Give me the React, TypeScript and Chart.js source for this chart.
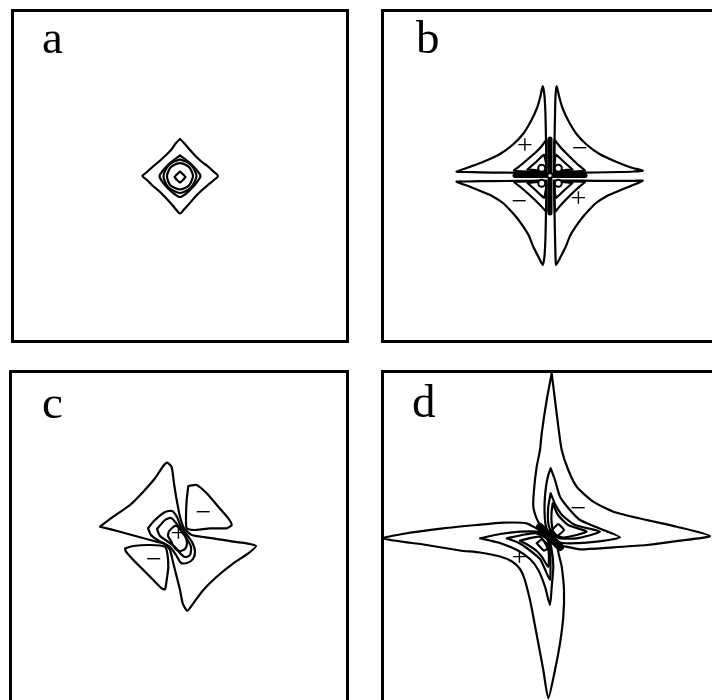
import { useEffect, useRef } from "react";
import { Chart, registerables } from "chart.js";

Chart.register(...registerables);

type Pt = [number, number];

// Coordinates are offsets from each panel's centre (x right, y up).

// ---- a: single centred peak ----
const aOuter: Pt[] = [
  [0, 37], [4, 33], [10, 26], [16, 19.5], [22, 14], [28, 9.5], [34, 4], [38, 0],
  [34, -4], [28, -9], [21, -15], [15, -21], [9, -28], [4, -33.5], [0, -37.5],
  [-4, -33.5], [-9, -27.5], [-15, -21], [-21, -15], [-27, -10], [-33, -4], [-37.5, 0],
  [-33, 4], [-27, 9.5], [-21, 14.5], [-15, 20], [-9, 26], [-4, 33],
];
const aRing2: Pt[] = [
  [0, 20.5], [5, 17], [11, 12], [17, 5.5], [20.5, 0], [17, -6], [11.5, -12.5], [5.5, -18],
  [0, -21], [-5.5, -18], [-12, -12.5], [-17.5, -6], [-20.5, 0], [-17, 5.5], [-11, 12], [-5, 17],
];
const aRing3: Pt[] = [
  [0, 16.5], [6, 14.5], [11, 11], [14.5, 6], [16.5, 0], [14.5, -6], [11, -11.5], [6, -15],
  [0, -17], [-6, -15], [-11.5, -11.5], [-15, -6], [-16.5, 0], [-14.5, 6], [-11, 11], [-6, 14.5],
];
const aRing4: Pt[] = [
  [0, 13], [5, 11.5], [9, 9], [11.5, 5], [13, 0], [11.5, -5], [9, -9.5], [5, -12],
  [0, -13.5], [-5, -12], [-9.5, -9.5], [-12, -5], [-13, 0], [-11.5, 5], [-9, 9], [-5, 11.5],
];
const aCore: Pt[] = [[0, 4.5], [5.5, -1], [0, -6.5], [-5.5, -1]];

// ---- b: four-lobed quadrupole ----
const bLobeUL: Pt[] = [
  [-3.5, 3], [-20, 3.2], [-45, 3.3], [-70, 3.6], [-85, 4], [-93.5, 4.3], [-82, 8.5], [-66, 14.5],
  [-50, 22], [-37, 31.5], [-27, 42], [-19, 55], [-13, 68], [-9.5, 80], [-7.3, 90],
  [-5.5, 80], [-4.5, 60], [-4, 35],
];
const bLobeUR: Pt[] = [
  [4, 3], [4.5, 35], [5, 60], [5.5, 80], [6.7, 90], [9, 80], [12.5, 68], [18.5, 55],
  [26.5, 42], [36.5, 31.5], [49.5, 22], [65.5, 14.5], [81, 8.5], [92.7, 5.3],
  [84, 4.5], [70, 4], [45, 3.5], [20, 3.2],
];
const bLobeLL: Pt[] = [
  [-3.5, -4.5], [-20, -4.8], [-45, -5], [-70, -5.2], [-85, -5.5], [-93.5, -5.7], [-80, -10.7],
  [-66, -16.5], [-56.7, -20.7], [-47, -27], [-40, -34], [-33, -42], [-26.7, -50.7], [-21, -60],
  [-16.7, -70.7], [-11, -82], [-7.3, -89], [-5.5, -80], [-4.5, -60], [-4, -35],
];
const bLobeLR: Pt[] = [
  [4, -4.5], [4.5, -35], [5, -60], [5.5, -80], [6, -89], [10, -82], [15.7, -70.7], [20, -60],
  [25.7, -50.7], [32, -42], [39, -34], [46, -27], [55.7, -20.7], [65, -16.5], [79, -10.7],
  [92.7, -4.7], [85, -4.8], [70, -4.8], [45, -4.8], [20, -4.6],
];
const bTriUL: Pt[] = [[-4, 4], [-36, 5.3], [-29, 11], [-22, 17], [-15, 23], [-9, 29], [-3.5, 36]];
const bTriUR: Pt[] = [[4.5, 4], [4.5, 36], [10, 29.3], [16, 23], [22, 17], [28.3, 11], [35, 5.3]];
const bTriLL: Pt[] = [[-4, -5], [-36, -5.7], [-29, -11.5], [-22, -17.5], [-15, -24], [-9, -30], [-3.5, -35.7]];
const bTriLR: Pt[] = [[4.5, -5], [35, -5.7], [28.5, -11.5], [22, -17.5], [15.5, -24], [10, -30], [5, -35.7]];
const bDiaUL: Pt[] = [[-22.5, 6.5], [-14, 14], [-6, 21.5], [-4, 13], [-4, 6], [-12, 5.5]];
const bDiaUR: Pt[] = [[22.5, 6.5], [14, 14], [6, 21.5], [4.5, 13], [4.5, 6], [12, 5.5]];
const bDiaLL: Pt[] = [[-22.5, -7], [-14, -14.5], [-6, -22], [-4, -13], [-4, -6.5], [-12, -6]];
const bDiaLR: Pt[] = [[22.5, -7], [14, -14.5], [6, -22], [4.5, -13], [4.5, -6.5], [12, -6]];
const bCrossH: Pt[] = [[-35, 0.5], [35, 0.5]];
const bCrossV: Pt[] = [[0, 37], [0, -37]];
const bRings: Pt[] = [[-8.3, 7.7], [8.3, 7.7], [-8.3, -7.3], [8.3, -7.3]];
const bCentre: Pt[] = [[0, 0.5]];

// ---- c: rotated pinwheel ----
const cOuter: Pt[] = [
  [-79, 10.3], [-65.7, 20.3], [-49, 32], [-35.7, 45.3], [-24, 58.7], [-15.7, 71], [-11.7, 74.3],
  [-7.3, 69.7], [-5, 53.7], [-2.3, 37], [1, 20.3], [5, 9], [12.7, 2], [34.3, -1.3], [54.3, -4.7],
  [67.7, -6.3], [77, -9], [69.3, -16.3], [54.3, -26.3], [37.7, -39.7], [24.3, -53], [14.3, -66.3],
  [8.3, -73.7], [3.7, -66.3], [1, -53], [-2.3, -39.7], [-5.7, -26.3], [-9, -13], [-14, -7],
  [-22.3, -4.7], [-39, -0.3], [-59, 5.3],
];
const cLobeUR: Pt[] = [
  [9.3, 51], [17.7, 52], [27.7, 43.7], [39.3, 30.3], [49.3, 18.7], [52.7, 12], [47.7, 8.7],
  [31, 8.7], [14.3, 7], [7.7, 8.7], [7, 20.3], [7.7, 37],
];
const cLobeLL: Pt[] = [
  [-54, -11.3], [-45.7, -9], [-29, -8], [-14, -9.7], [-11.7, -16.3], [-10.7, -29.7], [-12.3, -43],
  [-14, -52.3], [-17.3, -51.3], [-25.7, -43], [-35.7, -33], [-45.7, -23], [-53, -14.7],
];
const cInner2: Pt[] = [
  [-31, 9], [-24, 17], [-14, 25], [-7, 26], [-2, 20], [2, 10], [8, 2], [13, -5], [16, -14],
  [14, -22], [8, -26], [2, -26], [-3, -18], [-9, -10], [-20, -4], [-28, 2],
];
const cInner3: Pt[] = [
  [-22, 8], [-14, 17], [-8, 19], [-3, 14], [2, 6], [8, -2], [12, -10], [11, -18], [6, -20],
  [1, -16], [-4, -10], [-12, -4], [-19, 1],
];
const cInner4: Pt[] = [
  [-10, 6], [-4, 11], [2, 9], [6, 2], [8, -6], [6, -12], [0, -14], [-5, -10], [-8, -4], [-11, 1],
];

// ---- d: elongated pinwheel ----
const dOuter: Pt[] = [
  [1.7, 163.7], [5, 137], [8.3, 110.3], [11.7, 87], [18.3, 67], [26.7, 50.3], [43.3, 35.3],
  [63.3, 25.3], [93.3, 17.7], [126.7, 10.3], [160, 1], [130, -3.7], [96.7, -8], [63.3, -10.3],
  [30, -12.3], [8, -9], [11.7, -29.7], [14, -53], [13.3, -79.7], [10, -106.3], [5, -133],
  [-1.7, -161.3], [-6.7, -133], [-11.7, -106.3], [-16.7, -79.7], [-20, -63], [-25.5, -42],
  [-30, -32], [-38, -24.5], [-50, -19.5], [-70, -15.5], [-90, -13.5], [-123.3, -8],
  [-166.7, -1.3], [-140, 4.3], [-106.7, 8.7], [-73.3, 12], [-46.7, 14.3], [-23.3, 13.7],
  [-8, 6], [-14, 20], [-16.7, 30.3], [-16, 47], [-13.3, 70.3], [-10, 87], [-8.3, 103.7], [-3.3, 137],
];
const dInner2a: Pt[] = [
  [0.7, 68.7], [5, 57], [10, 40.3], [20, 27], [30, 17], [46.7, 9.7], [70, -0.3], [46.7, -4.7],
  [20, -6.3], [8, -5], [2, 0], [-4, 10.3], [-5.5, 30.3], [-4, 50.3], [-1.7, 62],
];
const dInner2b: Pt[] = [
  [-70, -1.3], [-50, 3], [-30, 5.3], [-13.3, 5.3], [-2, 0], [1.7, -13], [3.3, -29.7], [1.7, -49.7],
  [0, -68], [-5, -49.7], [-11.7, -33], [-20, -22], [-33, -13], [-50, -6], [-60, -3.5],
];
const dInner3a: Pt[] = [
  [0.7, 43.7], [5, 33], [12, 22], [25, 12], [50, 5.3], [26.7, -1.3], [10, -1.3], [2, 3],
  [-1.7, 13.7], [-1.7, 30.3],
];
const dInner3b: Pt[] = [
  [-43.3, -1.3], [-25, 2.5], [-13.3, 3.7], [-3, -2], [0, -13], [0.5, -28], [0, -43], [-6, -30],
  [-10, -22], [-23.3, -11], [-33, -5],
];
const dInner4a: Pt[] = [[2.7, 33.7], [8, 22], [18, 12], [36.7, 5.3], [13.3, -0.5], [4, 3], [1.7, 13.7], [1.5, 24]];
const dInner4b: Pt[] = [[-30, -3.7], [-10, 0.3], [-1.7, -13], [-1.7, -29.7], [-8, -20], [-13.3, -14], [-22, -8]];
const dInner5a: Pt[] = [[1.7, 7], [8.3, 13], [14, 7], [7.3, 1]];
const dInner5b: Pt[] = [[-13.3, -6.3], [-8.3, -2.3], [0, -9.7], [-6, -13.7]];
const dCore: Pt[] = [[-10, 10], [10, -10]];

// sign labels: [text, x, y]
const bSigns: [string, number, number][] = [["+", -25, 29.3], ["\u2212", 30, 26.7], ["\u2212", -30.7, -26.3], ["+", 28.3, -24]];
const cSigns: [string, number, number][] = [["+", -0.7, 2], ["\u2212", 24.3, 23], ["\u2212", -25, -23.7]];
const dSigns: [string, number, number][] = [["\u2212", 28.3, 27], ["+", -30.7, -21.3]];

type Contour = { pts: Pt[]; width?: number; open?: boolean; tension?: number };

interface PanelSpec {
  label: string;
  left: number;
  top: number;
  width: number;
  height: number;
  labelX: number;
  labelY: number;
  contours: Contour[];
  rings?: Pt[];
  dots?: Pt[];
  signs: [string, number, number][];
}

const panels: PanelSpec[] = [
  {
    label: "a", left: 11, top: 9, width: 338, height: 334, labelX: 31, labelY: 44,
    contours: [{ pts: aOuter }, { pts: aRing2 }, { pts: aRing3 }, { pts: aRing4 }, { pts: aCore, tension: 0.1 }],
    signs: [],
  },
  {
    label: "b", left: 381, top: 9, width: 338, height: 334, labelX: 35, labelY: 44,
    contours: [
      { pts: bLobeUL, tension: 0.2 }, { pts: bLobeUR, tension: 0.2 }, { pts: bLobeLL, tension: 0.2 }, { pts: bLobeLR, tension: 0.2 },
      { pts: bTriUL, tension: 0.1 }, { pts: bTriUR, tension: 0.1 }, { pts: bTriLL, tension: 0.1 }, { pts: bTriLR, tension: 0.1 },
      { pts: bDiaUL, tension: 0.1 }, { pts: bDiaUR, tension: 0.1 }, { pts: bDiaLL, tension: 0.1 }, { pts: bDiaLR, tension: 0.1 },
      { pts: bCrossH, width: 5, open: true, tension: 0 }, { pts: bCrossV, width: 5, open: true, tension: 0 },
    ],
    rings: bRings,
    dots: bCentre,
    signs: bSigns,
  },
  {
    label: "c", left: 9, top: 370, width: 340, height: 334, labelX: 33, labelY: 48,
    contours: [
      { pts: cOuter, tension: 0.2 }, { pts: cLobeUR, tension: 0.2 }, { pts: cLobeLL, tension: 0.2 },
      { pts: cInner2, tension: 0.25 }, { pts: cInner3, tension: 0.25 }, { pts: cInner4, tension: 0.25 },
    ],
    signs: cSigns,
  },
  {
    label: "d", left: 381, top: 370, width: 338, height: 334, labelX: 31, labelY: 47,
    contours: [
      { pts: dOuter, tension: 0.2 }, { pts: dInner2a, tension: 0.2 }, { pts: dInner2b, tension: 0.2 },
      { pts: dInner3a, tension: 0.2 }, { pts: dInner3b, tension: 0.2 }, { pts: dInner4a, tension: 0.2 },
      { pts: dInner4b, tension: 0.2 }, { pts: dInner5a, tension: 0.1 }, { pts: dInner5b, tension: 0.1 },
      { pts: dCore, width: 8, open: true, tension: 0 },
    ],
    signs: dSigns,
  },
];

const toXY = (pts: Pt[]) => pts.map(([x, y]) => ({ x, y }));

function Panel({ spec }: { spec: PanelSpec }) {
  const ref = useRef<HTMLCanvasElement | null>(null);

  useEffect(() => {
    if (!ref.current) return;
    const hw = spec.width / 2;
    const hh = spec.height / 2;

    const datasets: any[] = spec.contours.map((c) => ({
      data: toXY(c.open ? c.pts : [...c.pts, c.pts[0]]),
      showLine: true,
      borderColor: "#000",
      borderWidth: c.width ?? 2.2,
      pointRadius: 0,
      pointHoverRadius: 0,
      tension: c.tension ?? 0.3,
      fill: false,
      borderCapStyle: "round",
      borderJoinStyle: "round",
      order: c.width ? 1 : 2,
    }));
    if (spec.rings) {
      datasets.push({
        data: toXY(spec.rings),
        showLine: false,
        pointRadius: 3.5,
        pointHoverRadius: 3.5,
        pointBorderWidth: 2,
        pointBackgroundColor: "#fff",
        pointBorderColor: "#000",
        order: 0,
      });
    }
    if (spec.dots) {
      datasets.push({
        data: toXY(spec.dots),
        showLine: false,
        pointRadius: 1.6,
        pointHoverRadius: 1.6,
        pointBorderWidth: 0,
        pointBackgroundColor: "#fff",
        pointBorderColor: "#fff",
        order: -1,
      });
    }

    const framePlugin = {
      id: "frameAndText",
      afterDraw(chart: any) {
        const { ctx, chartArea } = chart;
        const xs = chart.scales.x;
        const ys = chart.scales.y;
        ctx.save();
        ctx.strokeStyle = "#000";
        ctx.lineWidth = 3;
        ctx.strokeRect(chartArea.left + 1.5, chartArea.top + 1.5, chartArea.width - 3, chartArea.height - 3);
        ctx.fillStyle = "#000";
        ctx.font = "47px 'Liberation Serif', 'Times New Roman', serif";
        ctx.textAlign = "left";
        ctx.textBaseline = "alphabetic";
        ctx.fillText(spec.label, chartArea.left + spec.labelX, chartArea.top + spec.labelY);
        ctx.font = "28px 'Liberation Serif', 'Times New Roman', serif";
        ctx.textAlign = "center";
        ctx.textBaseline = "middle";
        for (const [t, x, y] of spec.signs) {
          ctx.fillText(t, xs.getPixelForValue(x), ys.getPixelForValue(y));
        }
        ctx.restore();
      },
    };

    const chart = new Chart(ref.current, {
      type: "scatter",
      data: { datasets },
      options: {
        animation: false,
        responsive: false,
        maintainAspectRatio: false,
        layout: { padding: 0, autoPadding: false },
        events: [],
        plugins: { legend: { display: false }, tooltip: { enabled: false } },
        scales: {
          x: { type: "linear", min: -hw, max: hw, display: false },
          y: { type: "linear", min: -hh, max: hh, display: false },
        },
      },
      plugins: [framePlugin],
    } as any);

    return () => chart.destroy();
  }, [spec]);

  return (
    <canvas
      ref={ref}
      width={spec.width}
      height={spec.height}
      style={{ position: "absolute", left: spec.left, top: spec.top }}
    />
  );
}

export default function App() {
  return (
    <div
      style={{
        position: "fixed",
        left: 0,
        top: 0,
        width: 712,
        height: 700,
        overflow: "hidden",
        background: "#fff",
      }}
    >
      {panels.map((p) => (
        <Panel key={p.label} spec={p} />
      ))}
    </div>
  );
}
